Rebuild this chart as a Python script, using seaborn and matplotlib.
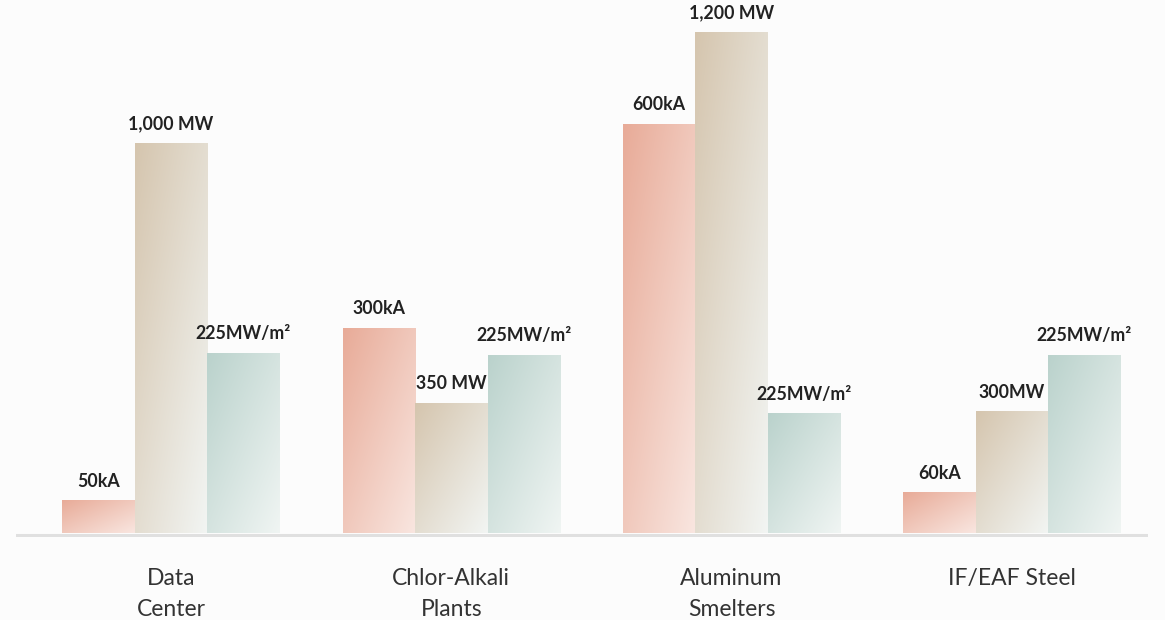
import numpy as np
import pandas as pd
import matplotlib
matplotlib.use("Agg")
import matplotlib.pyplot as plt
import seaborn as sns
from matplotlib.colors import to_rgb

# Industries shown along the x axis
categories = ["Data\nCenter", "Chlor-Alkali\nPlants", "Aluminum\nSmelters", "IF/EAF Steel"]
series = ["Current", "Power", "Power density"]

# Relative bar heights (tallest bar = 100)
current_height = [6.4, 40.9, 81.6, 8.0]
power_height = [77.8, 25.9, 100.0, 24.2]
density_height = [35.9, 35.5, 23.8, 35.5]

# Value labels printed above each bar
current_labels = ["50kA", "300kA", "600kA", "60kA"]
power_labels = ["1,000 MW", "350 MW", "1,200 MW", "300MW"]
density_labels = ["225MW/m²", "225MW/m²", "225MW/m²", "225MW/m²"]

# Gradient colours per series: (top-left, bottom-right)
gradients = {
    "Current": ("#e8ab98", "#f9e6e0"),
    "Power": ("#d5c5ae", "#f2f5f3"),
    "Power density": ("#bad2cc", "#f0f5f3"),
}

rows = []
for s, h, lab in zip(series,
                     [current_height, power_height, density_height],
                     [current_labels, power_labels, density_labels]):
    for c, v, t in zip(categories, h, lab):
        rows.append({"category": c, "series": s, "height": v, "label": t})
df = pd.DataFrame(rows)

sns.set_theme(style="white")
plt.rcParams["font.family"] = ["Lato", "DejaVu Sans"]

bg = "#fcfcfc"
fig = plt.figure(figsize=(11.65, 6.2), dpi=100)
fig.patch.set_facecolor(bg)
ax = fig.add_axes([16 / 1165, 83 / 620, 1132 / 1165, 537 / 620])
ax.set_facecolor(bg)

sns.barplot(data=df, x="category", y="height", hue="series",
            order=categories, hue_order=series, width=0.776, gap=0,
            errorbar=None, legend=False, saturation=1,
            palette=[gradients[s][0] for s in series], ax=ax)

xlim = (-0.553, 3.486)
ylim = (-0.8, 106.4)

# Replace flat fills with diagonal gradients
ny, nx = 200, 60
u = np.linspace(0, 1, nx)[None, :]
v = np.linspace(0, 1, ny)[:, None]
tgrid = (u + v) / 2.0
for s, cont in zip(series, ax.containers):
    c0 = np.array(to_rgb(gradients[s][0]))
    c1 = np.array(to_rgb(gradients[s][1]))
    img = c0[None, None, :] * (1 - tgrid[..., None]) + c1[None, None, :] * tgrid[..., None]
    sub = df[df["series"] == s].set_index("category")
    for patch, cat in zip(cont.patches, categories):
        x0 = patch.get_x()
        w = patch.get_width()
        h = patch.get_height()
        ax.imshow(img, extent=(x0, x0 + w, 0, h), origin="upper",
                  aspect="auto", interpolation="bilinear", zorder=2)
        patch.set_visible(False)
        ax.annotate(sub.loc[cat, "label"], (x0 + w / 2, h),
                    xytext=(0, 10), textcoords="offset points",
                    ha="center", va="baseline", fontsize=12.8,
                    fontweight="bold", color="#222222", zorder=5)

ax.axhline(-0.5, color="#e0e0e0", lw=2.2, zorder=3)
ax.set_xlim(*xlim)
ax.set_ylim(*ylim)

for sp in ax.spines.values():
    sp.set_visible(False)
ax.set_yticks([])
ax.set_xlabel("")
ax.set_ylabel("")
ax.set_xticks(range(len(categories)))
ax.set_xticklabels(categories, fontsize=16.5, color="#333333")
ax.tick_params(axis="x", length=0, pad=22)
for lab in ax.get_xticklabels():
    lab.set_linespacing(1.62)
    lab.set_verticalalignment("top")

fig.savefig("out.png", dpi=100, facecolor=bg)
